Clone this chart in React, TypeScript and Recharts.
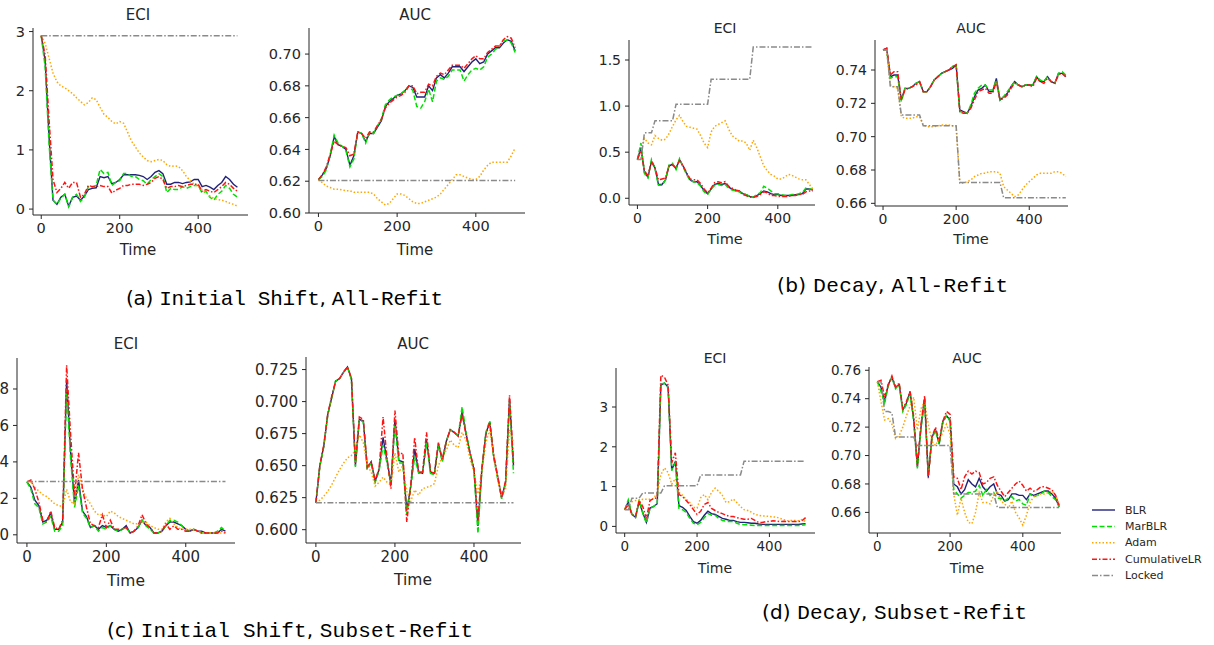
import React from "react";
import { LineChart, Line, XAxis, YAxis } from "recharts";

// time steps shared by every panel
const TIME = [
  0, 10, 20, 30, 40, 50, 60, 70, 80, 90,
  100, 110, 120, 130, 140, 150, 160, 170, 180, 190,
  200, 210, 220, 230, 240, 250, 260, 270, 280, 290,
  300, 310, 320, 330, 340, 350, 360, 370, 380, 390,
  400, 410, 420, 430, 440, 450, 460, 470, 480, 490,
  500,
];

// (a) Initial Shift, All-Refit — ECI
const A_ECI_BLR = [
  2.93, 2.5, 1.2, 0.15, 0.08, 0.2, 0.25, 0.05, 0.2, 0.22,
  0.15, 0.22, 0.33, 0.35, 0.36, 0.55, 0.53, 0.55, 0.43, 0.45,
  0.5, 0.58, 0.58, 0.58, 0.58, 0.57, 0.55, 0.5, 0.55, 0.62,
  0.65, 0.6, 0.42, 0.42, 0.45, 0.45, 0.43, 0.45, 0.46, 0.5,
  0.5, 0.38, 0.4, 0.37, 0.33, 0.4, 0.45, 0.55, 0.5, 0.42,
  0.37,
];
const A_ECI_MARBLR = [
  2.93, 2.4, 1.1, 0.15, 0.08, 0.18, 0.25, 0.04, 0.2, 0.25,
  0.13, 0.2, 0.38, 0.37, 0.4, 0.67, 0.6, 0.62, 0.4, 0.45,
  0.48, 0.6, 0.6, 0.55, 0.55, 0.5, 0.48, 0.42, 0.5, 0.55,
  0.6, 0.55, 0.28, 0.35, 0.33, 0.33, 0.38, 0.35, 0.38, 0.4,
  0.4, 0.27, 0.3, 0.2, 0.15, 0.25, 0.3, 0.4, 0.35, 0.25,
  0.2,
];
const A_ECI_ADAM = [
  2.93, 2.8, 2.55, 2.3, 2.15, 2.08, 2.05, 2.0, 1.95, 1.88,
  1.82, 1.76, 1.8, 1.88, 1.85, 1.72, 1.6, 1.55, 1.48, 1.44,
  1.48, 1.45, 1.3, 1.15, 1.05, 0.95, 0.88, 0.82, 0.8, 0.82,
  0.84, 0.82, 0.75, 0.72, 0.73, 0.72, 0.65, 0.55, 0.48, 0.42,
  0.38, 0.33, 0.28, 0.22, 0.18, 0.16, 0.15, 0.13, 0.1, 0.08,
  0.05,
];
const A_ECI_CUMLR = [
  2.93, 2.6, 1.5, 0.5, 0.28, 0.35, 0.45, 0.35, 0.45, 0.45,
  0.2, 0.25, 0.4, 0.38, 0.38, 0.4, 0.38, 0.38, 0.27, 0.32,
  0.35, 0.4, 0.4, 0.42, 0.42, 0.42, 0.4, 0.42, 0.45, 0.52,
  0.55, 0.5, 0.35, 0.38, 0.38, 0.4, 0.38, 0.4, 0.42, 0.42,
  0.42, 0.3, 0.33, 0.3, 0.28, 0.33, 0.38, 0.45, 0.42, 0.35,
  0.3,
];
const A_ECI_LOCKED = [
  2.93, 2.93, 2.93, 2.93, 2.93, 2.93, 2.93, 2.93, 2.93, 2.93,
  2.93, 2.93, 2.93, 2.93, 2.93, 2.93, 2.93, 2.93, 2.93, 2.93,
  2.93, 2.93, 2.93, 2.93, 2.93, 2.93, 2.93, 2.93, 2.93, 2.93,
  2.93, 2.93, 2.93, 2.93, 2.93, 2.93, 2.93, 2.93, 2.93, 2.93,
  2.93, 2.93, 2.93, 2.93, 2.93, 2.93, 2.93, 2.93, 2.93, 2.93,
  2.93,
];

// (a) Initial Shift, All-Refit — AUC
const A_AUC_BLR = [
  0.621, 0.624, 0.628, 0.636, 0.648, 0.643, 0.642, 0.64, 0.63, 0.636,
  0.651, 0.65, 0.645, 0.65, 0.65, 0.654, 0.658, 0.667, 0.67, 0.672,
  0.674, 0.675, 0.677, 0.68, 0.679, 0.673, 0.673, 0.673, 0.68, 0.677,
  0.685, 0.687, 0.685, 0.688, 0.692, 0.692, 0.692, 0.689, 0.692, 0.695,
  0.697, 0.694, 0.695, 0.7, 0.702, 0.704, 0.704, 0.707, 0.709, 0.708,
  0.702,
];
const A_AUC_MARBLR = [
  0.621, 0.623, 0.627, 0.637, 0.649, 0.644, 0.642, 0.639, 0.629, 0.634,
  0.651, 0.65, 0.644, 0.651, 0.65, 0.655, 0.659, 0.668, 0.671, 0.673,
  0.674, 0.675, 0.677, 0.68, 0.677, 0.667, 0.666, 0.67, 0.678, 0.67,
  0.683, 0.685, 0.684, 0.686, 0.69, 0.69, 0.69, 0.683, 0.687, 0.69,
  0.691, 0.69, 0.692, 0.698, 0.7, 0.703, 0.705, 0.708, 0.709, 0.707,
  0.701,
];
const A_AUC_ADAM = [
  0.621, 0.619, 0.617, 0.616, 0.615, 0.615, 0.6145, 0.614, 0.614, 0.613,
  0.613, 0.613, 0.613, 0.613, 0.612, 0.609, 0.607, 0.605, 0.606, 0.609,
  0.612, 0.612, 0.611, 0.609, 0.607, 0.606, 0.606, 0.607, 0.608, 0.609,
  0.61, 0.612, 0.615, 0.618, 0.621, 0.624, 0.624, 0.623, 0.622, 0.621,
  0.621, 0.623, 0.627, 0.63, 0.632, 0.632, 0.632, 0.632, 0.632, 0.636,
  0.641,
];
const A_AUC_CUMLR = [
  0.621, 0.624, 0.629, 0.637, 0.645, 0.643, 0.642, 0.641, 0.636, 0.637,
  0.651, 0.65, 0.647, 0.651, 0.651, 0.655, 0.659, 0.666, 0.669, 0.671,
  0.673, 0.674, 0.676, 0.68, 0.68, 0.675, 0.676, 0.676, 0.681, 0.68,
  0.686, 0.688, 0.687, 0.69, 0.693, 0.693, 0.693, 0.691, 0.694, 0.697,
  0.699, 0.697, 0.697, 0.701, 0.703, 0.705, 0.705, 0.709, 0.711, 0.71,
  0.704,
];
const A_AUC_LOCKED = [
  0.6205, 0.6205, 0.6205, 0.6205, 0.6205, 0.6205, 0.6205, 0.6205, 0.6205, 0.6205,
  0.6205, 0.6205, 0.6205, 0.6205, 0.6205, 0.6205, 0.6205, 0.6205, 0.6205, 0.6205,
  0.6205, 0.6205, 0.6205, 0.6205, 0.6205, 0.6205, 0.6205, 0.6205, 0.6205, 0.6205,
  0.6205, 0.6205, 0.6205, 0.6205, 0.6205, 0.6205, 0.6205, 0.6205, 0.6205, 0.6205,
  0.6205, 0.6205, 0.6205, 0.6205, 0.6205, 0.6205, 0.6205, 0.6205, 0.6205, 0.6205,
  0.6205,
];

// (b) Decay, All-Refit — ECI
const B_ECI_BLR = [
  0.42, 0.55, 0.28, 0.23, 0.4, 0.33, 0.15, 0.15, 0.2, 0.35,
  0.37, 0.32, 0.42, 0.35, 0.27, 0.2, 0.18, 0.18, 0.14, 0.08,
  0.05, 0.1, 0.15, 0.16, 0.15, 0.16, 0.12, 0.1, 0.08, 0.08,
  0.05, 0.04, 0.02, 0.01, 0.03, 0.05, 0.08, 0.07, 0.05, 0.04,
  0.04, 0.03, 0.03, 0.03, 0.03, 0.04, 0.04, 0.05, 0.1, 0.1,
  0.09,
];
const B_ECI_MARBLR = [
  0.42, 0.6, 0.27, 0.22, 0.42, 0.32, 0.14, 0.14, 0.2, 0.36,
  0.38, 0.31, 0.43, 0.34, 0.26, 0.19, 0.18, 0.17, 0.13, 0.07,
  0.04, 0.1, 0.14, 0.15, 0.14, 0.15, 0.11, 0.09, 0.08, 0.07,
  0.05, 0.04, 0.02, 0.01, 0.04, 0.06, 0.13, 0.11, 0.08, 0.05,
  0.05, 0.04, 0.03, 0.03, 0.04, 0.04, 0.05, 0.06, 0.11, 0.1,
  0.1,
];
const B_ECI_ADAM = [
  0.42, 0.5, 0.65, 0.6, 0.58, 0.68, 0.65, 0.63, 0.64, 0.7,
  0.78, 0.85, 0.9, 0.83, 0.78, 0.77, 0.76, 0.75, 0.68, 0.6,
  0.55, 0.72, 0.78, 0.8, 0.82, 0.84, 0.75, 0.68, 0.65, 0.62,
  0.62, 0.6, 0.52, 0.63, 0.55, 0.45, 0.35, 0.3, 0.26, 0.24,
  0.21, 0.21, 0.23, 0.26, 0.25, 0.23, 0.21, 0.2, 0.2, 0.15,
  0.1,
];
const B_ECI_CUMLR = [
  0.42, 0.52, 0.3, 0.24, 0.4, 0.33, 0.2, 0.21, 0.22, 0.35,
  0.36, 0.33, 0.41, 0.35, 0.28, 0.21, 0.2, 0.2, 0.16, 0.1,
  0.06, 0.11, 0.17, 0.18, 0.17, 0.18, 0.13, 0.11, 0.09, 0.08,
  0.04, 0.03, 0.01, 0.01, 0.02, 0.04, 0.07, 0.06, 0.03, 0.03,
  0.02, 0.02, 0.02, 0.02, 0.03, 0.03, 0.04, 0.04, 0.07, 0.08,
  0.08,
];
// the locked model's ECI under decay (same in (b) and (d))
const DECAY_ECI_LOCKED = [
  0.42, 0.42, 0.71, 0.71, 0.71, 0.84, 0.84, 0.84, 0.84, 0.84,
  0.84, 1.02, 1.02, 1.02, 1.02, 1.02, 1.02, 1.02, 1.02, 1.02,
  1.02, 1.29, 1.29, 1.29, 1.29, 1.29, 1.29, 1.29, 1.29, 1.29,
  1.29, 1.29, 1.29, 1.64, 1.64, 1.64, 1.64, 1.64, 1.64, 1.64,
  1.64, 1.64, 1.64, 1.64, 1.64, 1.64, 1.64, 1.64, 1.64, 1.64,
  1.64,
];

// (b) Decay, All-Refit — AUC
const B_AUC_BLR = [
  0.752, 0.753, 0.736, 0.737, 0.737, 0.722, 0.729, 0.729, 0.73, 0.732,
  0.733, 0.727, 0.727, 0.73, 0.734, 0.736, 0.738, 0.739, 0.74, 0.741,
  0.743, 0.716, 0.715, 0.714, 0.718, 0.724, 0.728, 0.729, 0.731, 0.727,
  0.727, 0.735, 0.722, 0.724, 0.726, 0.73, 0.733, 0.731, 0.73, 0.731,
  0.731, 0.731, 0.736, 0.733, 0.733, 0.736, 0.733, 0.732, 0.738, 0.738,
  0.736,
];
const B_AUC_MARBLR = [
  0.752, 0.752, 0.735, 0.736, 0.736, 0.721, 0.729, 0.729, 0.73, 0.732,
  0.733, 0.727, 0.727, 0.73, 0.734, 0.736, 0.738, 0.739, 0.74, 0.742,
  0.743, 0.715, 0.715, 0.714, 0.719, 0.726, 0.729, 0.731, 0.731, 0.728,
  0.728, 0.734, 0.722, 0.724, 0.727, 0.73, 0.733, 0.731, 0.73, 0.731,
  0.731, 0.731, 0.736, 0.734, 0.733, 0.736, 0.733, 0.732, 0.738, 0.739,
  0.737,
];
const B_AUC_ADAM = [
  0.752, 0.752, 0.731, 0.73, 0.729, 0.712, 0.711, 0.711, 0.711, 0.712,
  0.712, 0.707, 0.706, 0.706, 0.706, 0.7065, 0.707, 0.707, 0.707, 0.7065,
  0.706, 0.672, 0.672, 0.673, 0.674, 0.676, 0.677, 0.678, 0.678, 0.679,
  0.679, 0.679, 0.678, 0.67, 0.668, 0.666, 0.664, 0.665, 0.668, 0.671,
  0.673, 0.675, 0.677, 0.678, 0.678, 0.678, 0.678, 0.679, 0.679, 0.678,
  0.676,
];
const B_AUC_CUMLR = [
  0.752, 0.753, 0.737, 0.739, 0.739, 0.722, 0.728, 0.729, 0.73, 0.731,
  0.733, 0.727, 0.727, 0.73, 0.734, 0.736, 0.738, 0.739, 0.74, 0.742,
  0.743, 0.715, 0.714, 0.714, 0.717, 0.722, 0.727, 0.728, 0.729, 0.726,
  0.726, 0.733, 0.722, 0.723, 0.725, 0.729, 0.732, 0.731, 0.73, 0.731,
  0.731, 0.73, 0.735, 0.733, 0.732, 0.735, 0.733, 0.732, 0.737, 0.738,
  0.736,
];
const B_AUC_LOCKED = [
  0.752, 0.752, 0.73, 0.73, 0.73, 0.713, 0.713, 0.713, 0.713, 0.713,
  0.713, 0.7065, 0.7065, 0.7065, 0.7065, 0.7065, 0.7065, 0.7065, 0.7065, 0.7065,
  0.7065, 0.6725, 0.6725, 0.6725, 0.6725, 0.6725, 0.6725, 0.6725, 0.6725, 0.6725,
  0.6725, 0.6725, 0.6725, 0.6633, 0.6633, 0.6633, 0.6633, 0.6633, 0.6633, 0.6633,
  0.6633, 0.6633, 0.6633, 0.6633, 0.6633, 0.6633, 0.6633, 0.6633, 0.6633, 0.6633,
  0.6633,
];

// (c) Initial Shift, Subset-Refit — ECI
const C_ECI_BLR = [
  0.29, 0.26, 0.19, 0.16, 0.07, 0.08, 0.12, 0.03, 0.03, 0.07,
  0.85, 0.45, 0.17, 0.3, 0.13, 0.1, 0.04, 0.05, 0.03, 0.05,
  0.04, 0.05, 0.03, 0.02, 0.03, 0.05, 0.01, 0.02, 0.04, 0.08,
  0.05, 0.04, 0.01, 0.01, 0.02, 0.05, 0.07, 0.07, 0.06, 0.05,
  0.03, 0.02, 0.03, 0.02, 0.02, 0.01, 0.01, 0.01, 0.01, 0.03,
  0.02,
];
const C_ECI_MARBLR = [
  0.29, 0.25, 0.17, 0.15, 0.06, 0.07, 0.1, 0.02, 0.02, 0.05,
  0.8, 0.42, 0.15, 0.27, 0.12, 0.09, 0.04, 0.05, 0.02, 0.04,
  0.03, 0.05, 0.03, 0.02, 0.03, 0.04, 0.01, 0.02, 0.04, 0.08,
  0.05, 0.03, 0.01, 0.01, 0.02, 0.05, 0.08, 0.08, 0.07, 0.05,
  0.03, 0.02, 0.03, 0.02, 0.01, 0.01, 0.01, 0.01, 0.02, 0.04,
  0.02,
];
const C_ECI_ADAM = [
  0.29, 0.29, 0.26, 0.24, 0.22, 0.21, 0.19, 0.17, 0.16, 0.155,
  0.25, 0.18, 0.17, 0.33, 0.25, 0.2, 0.17, 0.13, 0.11, 0.11,
  0.1, 0.13, 0.12, 0.1, 0.09, 0.08, 0.07, 0.06, 0.06, 0.07,
  0.07, 0.05, 0.04, 0.03, 0.03, 0.07, 0.09, 0.06, 0.04, 0.03,
  0.03, 0.03, 0.03, 0.02, 0.01, 0.01, 0.01, 0.01, 0.01, 0.01,
  0.01,
];
const C_ECI_CUMLR = [
  0.29, 0.3, 0.25, 0.18, 0.08, 0.07, 0.13, 0.04, 0.03, 0.08,
  0.93, 0.55, 0.22, 0.45, 0.25, 0.15, 0.06, 0.05, 0.04, 0.11,
  0.04, 0.08, 0.03, 0.03, 0.03, 0.04, 0.01, 0.02, 0.05, 0.11,
  0.06, 0.04, 0.01, 0.01, 0.02, 0.06, 0.03, 0.05, 0.03, 0.03,
  0.02, 0.02, 0.03, 0.02, 0.01, 0.01, 0.01, 0.01, 0.01, 0.02,
  0.01,
];
const C_ECI_LOCKED = [
  0.293, 0.293, 0.293, 0.293, 0.293, 0.293, 0.293, 0.293, 0.293, 0.293,
  0.293, 0.293, 0.293, 0.293, 0.293, 0.293, 0.293, 0.293, 0.293, 0.293,
  0.293, 0.293, 0.293, 0.293, 0.293, 0.293, 0.293, 0.293, 0.293, 0.293,
  0.293, 0.293, 0.293, 0.293, 0.293, 0.293, 0.293, 0.293, 0.293, 0.293,
  0.293, 0.293, 0.293, 0.293, 0.293, 0.293, 0.293, 0.293, 0.293, 0.293,
  0.293,
];

// (c) Initial Shift, Subset-Refit — AUC
const C_AUC_BLR = [
  0.621, 0.65, 0.665, 0.69, 0.703, 0.716, 0.718, 0.723, 0.727, 0.718,
  0.65, 0.686, 0.685, 0.648, 0.653, 0.638, 0.647, 0.672, 0.654, 0.636,
  0.686, 0.654, 0.653, 0.615, 0.634, 0.663, 0.645, 0.644, 0.67, 0.645,
  0.644, 0.667, 0.654, 0.669, 0.678, 0.676, 0.673, 0.692, 0.675, 0.66,
  0.647, 0.603, 0.647, 0.675, 0.684, 0.657, 0.641, 0.625, 0.637, 0.702,
  0.65,
];
const C_AUC_MARBLR = [
  0.621, 0.649, 0.665, 0.689, 0.703, 0.716, 0.718, 0.723, 0.727, 0.717,
  0.649, 0.686, 0.684, 0.647, 0.652, 0.637, 0.646, 0.666, 0.652, 0.635,
  0.682, 0.652, 0.652, 0.612, 0.633, 0.657, 0.644, 0.644, 0.668, 0.644,
  0.643, 0.666, 0.653, 0.669, 0.678, 0.676, 0.673, 0.696, 0.676, 0.66,
  0.646, 0.597, 0.646, 0.676, 0.685, 0.656, 0.64, 0.624, 0.636, 0.7,
  0.644,
];
const C_AUC_ADAM = [
  0.621, 0.623, 0.626, 0.63, 0.635, 0.641, 0.647, 0.652, 0.656, 0.658,
  0.662, 0.674, 0.668, 0.65, 0.645, 0.634, 0.637, 0.641, 0.637, 0.635,
  0.66, 0.645, 0.65, 0.63, 0.622, 0.631, 0.627, 0.632, 0.633, 0.634,
  0.636, 0.65, 0.657, 0.662, 0.67, 0.666, 0.664, 0.676, 0.67, 0.655,
  0.645, 0.628, 0.645, 0.668, 0.678, 0.658, 0.639, 0.626, 0.632, 0.678,
  0.668,
];
const C_AUC_CUMLR = [
  0.621, 0.65, 0.666, 0.69, 0.704, 0.716, 0.718, 0.723, 0.727, 0.718,
  0.652, 0.688, 0.686, 0.649, 0.653, 0.638, 0.648, 0.688, 0.656, 0.632,
  0.693, 0.658, 0.66, 0.606, 0.634, 0.672, 0.645, 0.645, 0.676, 0.645,
  0.644, 0.668, 0.655, 0.669, 0.678, 0.676, 0.673, 0.69, 0.674, 0.66,
  0.648, 0.607, 0.648, 0.674, 0.684, 0.658, 0.642, 0.625, 0.638, 0.705,
  0.652,
];
const C_AUC_LOCKED = [
  0.621, 0.621, 0.621, 0.621, 0.621, 0.621, 0.621, 0.621, 0.621, 0.621,
  0.621, 0.621, 0.621, 0.621, 0.621, 0.621, 0.621, 0.621, 0.621, 0.621,
  0.621, 0.621, 0.621, 0.621, 0.621, 0.621, 0.621, 0.621, 0.621, 0.621,
  0.621, 0.621, 0.621, 0.621, 0.621, 0.621, 0.621, 0.621, 0.621, 0.621,
  0.621, 0.621, 0.621, 0.621, 0.621, 0.621, 0.621, 0.621, 0.621, 0.621,
  0.621,
];

// (d) Decay, Subset-Refit — ECI
const D_ECI_BLR = [
  0.42, 0.62, 0.3, 0.23, 0.62, 0.34, 0.1, 0.46, 0.5, 0.57,
  3.55, 3.6, 3.5, 1.42, 1.63, 0.52, 0.48, 0.4, 0.25, 0.12,
  0.08, 0.15, 0.28, 0.38, 0.32, 0.3, 0.25, 0.2, 0.18, 0.15,
  0.15, 0.12, 0.1, 0.1, 0.09, 0.08, 0.08, 0.06, 0.05, 0.05,
  0.05, 0.05, 0.05, 0.05, 0.05, 0.05, 0.05, 0.05, 0.05, 0.06,
  0.07,
];
const D_ECI_MARBLR = [
  0.42, 0.67, 0.3, 0.22, 0.67, 0.33, 0.08, 0.45, 0.5, 0.56,
  3.58, 3.6, 3.48, 1.4, 1.6, 0.45, 0.42, 0.35, 0.2, 0.08,
  0.04, 0.1, 0.22, 0.32, 0.28, 0.28, 0.2, 0.15, 0.13, 0.12,
  0.12, 0.08, 0.05, 0.04, 0.04, 0.03, 0.02, 0.02, 0.02, 0.02,
  0.02, 0.02, 0.02, 0.02, 0.02, 0.02, 0.02, 0.02, 0.02, 0.03,
  0.04,
];
const D_ECI_ADAM = [
  0.42, 0.55, 0.62, 0.65, 0.65, 0.68, 0.68, 0.68, 0.7, 0.85,
  1.3, 1.47, 1.35, 1.06, 1.2, 0.85, 0.78, 0.68, 0.6, 0.48,
  0.46, 0.72, 0.8, 0.67, 0.85, 0.96, 0.88, 0.78, 0.6, 0.62,
  0.69, 0.6, 0.5, 0.42, 0.4, 0.36, 0.3, 0.28, 0.26, 0.26,
  0.25, 0.24, 0.23, 0.2, 0.17, 0.14, 0.15, 0.15, 0.14, 0.17,
  0.12,
];
const D_ECI_CUMLR = [
  0.42, 0.55, 0.3, 0.25, 0.65, 0.5, 0.2, 0.65, 0.7, 0.72,
  3.8, 3.75, 3.55, 1.6, 1.85, 0.8, 0.75, 0.65, 0.55, 0.42,
  0.3, 0.38, 0.55, 0.6, 0.45, 0.4, 0.35, 0.32, 0.28, 0.25,
  0.25, 0.22, 0.2, 0.18, 0.18, 0.2, 0.15, 0.1, 0.1, 0.12,
  0.12, 0.14, 0.13, 0.12, 0.13, 0.12, 0.12, 0.12, 0.12, 0.14,
  0.22,
];

// (d) Decay, Subset-Refit — AUC
const D_AUC_BLR = [
  0.752, 0.748, 0.738, 0.75, 0.755, 0.748, 0.75, 0.732, 0.737, 0.745,
  0.725, 0.692, 0.72, 0.74, 0.685, 0.713, 0.718, 0.708, 0.724, 0.728,
  0.725, 0.68, 0.678, 0.673, 0.676, 0.683, 0.68, 0.678, 0.684, 0.678,
  0.675, 0.678, 0.68, 0.673, 0.672, 0.668, 0.669, 0.673, 0.673, 0.672,
  0.672, 0.669, 0.673, 0.672, 0.673, 0.674, 0.675, 0.675, 0.673, 0.67,
  0.664,
];
const D_AUC_MARBLR = [
  0.752, 0.745, 0.737, 0.749, 0.755, 0.747, 0.75, 0.731, 0.736, 0.744,
  0.724, 0.691, 0.719, 0.739, 0.686, 0.712, 0.718, 0.708, 0.723, 0.728,
  0.724, 0.676, 0.673, 0.67, 0.672, 0.674, 0.674, 0.675, 0.679, 0.672,
  0.676, 0.672, 0.674, 0.67, 0.67, 0.668, 0.67, 0.671, 0.668, 0.669,
  0.666, 0.665, 0.673, 0.671, 0.672, 0.673, 0.675, 0.674, 0.671, 0.669,
  0.664,
];
const D_AUC_ADAM = [
  0.752, 0.738, 0.725, 0.726, 0.722, 0.712, 0.714, 0.72, 0.728, 0.735,
  0.741, 0.718, 0.733, 0.738, 0.722, 0.71, 0.707, 0.712, 0.716, 0.722,
  0.715, 0.673, 0.658, 0.67, 0.66, 0.653, 0.652, 0.66, 0.674, 0.667,
  0.667, 0.666, 0.672, 0.675, 0.668, 0.666, 0.663, 0.668, 0.66, 0.656,
  0.651, 0.658, 0.667, 0.671, 0.672, 0.673, 0.673, 0.674, 0.675, 0.672,
  0.666,
];
const D_AUC_CUMLR = [
  0.752, 0.753, 0.741, 0.75, 0.756, 0.748, 0.751, 0.733, 0.738, 0.745,
  0.727, 0.693, 0.722, 0.742, 0.684, 0.713, 0.72, 0.71, 0.724, 0.731,
  0.729, 0.685, 0.684, 0.676, 0.685, 0.689, 0.687, 0.689, 0.688, 0.68,
  0.681, 0.684, 0.685, 0.679, 0.675, 0.671, 0.674, 0.677, 0.68, 0.682,
  0.679, 0.675, 0.677, 0.675, 0.676, 0.678, 0.678, 0.677, 0.676, 0.672,
  0.665,
];
const D_AUC_LOCKED = [
  0.752, 0.752, 0.731, 0.731, 0.73, 0.713, 0.713, 0.713, 0.713, 0.713,
  0.713, 0.707, 0.707, 0.707, 0.707, 0.707, 0.707, 0.707, 0.707, 0.707,
  0.707, 0.673, 0.673, 0.673, 0.673, 0.673, 0.673, 0.673, 0.673, 0.673,
  0.673, 0.673, 0.673, 0.6635, 0.6635, 0.6635, 0.6635, 0.6635, 0.6635, 0.6635,
  0.6635, 0.6635, 0.6635, 0.6635, 0.6635, 0.6635, 0.6635, 0.6635, 0.6635, 0.6635,
  0.6635,
];

const X_TICKS = [0, 200, 400];
const ECI_TICKS_A = [0, 1, 2, 3];
const AUC_TICKS_A = [0.6, 0.62, 0.64, 0.66, 0.68, 0.7];
const ECI_TICKS_B = [0, 0.5, 1.0, 1.5];
const AUC_TICKS_B = [0.66, 0.68, 0.7, 0.72, 0.74];
const ECI_TICKS_C = [0, 0.2, 0.4, 0.6, 0.8];
const AUC_TICKS_C = [0.6, 0.625, 0.65, 0.675, 0.7, 0.725];
const ECI_TICKS_D = [0, 1, 2, 3];
const AUC_TICKS_D = [0.66, 0.68, 0.7, 0.72, 0.74, 0.76];

const SERIES = [
  { key: "BLR", color: "#22227a", width: 1.4, dash: undefined as string | undefined },
  { key: "MarBLR", color: "#00e000", width: 1.5, dash: "5 2.5" },
  { key: "Adam", color: "#ffa500", width: 1.5, dash: "1.5 2" },
  { key: "CumulativeLR", color: "#ff1414", width: 1.5, dash: "5 2 1.5 2" },
  { key: "Locked", color: "#8a8a8a", width: 1.5, dash: "6 2 1.5 2" },
];

const INK = "#262626";
const SANS = "'DejaVu Sans', sans-serif";
const MONO = "'Liberation Mono', 'Courier New', monospace";

interface PanelSpec {
  title: string;
  left: number; right: number; top: number; bottom: number;
  xDomain: [number, number];
  yDomain: [number, number];
  yTicks: number[];
  digits: number;
  tickFont: number; titleFont: number; timeFont: number;
  titleX: number; titleY: number; timeY: number;
  values: number[][];
}

const PANELS: PanelSpec[] = [
  { title: "ECI", left: 33, right: 248, top: 28, bottom: 215, xDomain: [-21, 527], yDomain: [-0.1, 3.06],
    yTicks: ECI_TICKS_A, digits: 0, tickFont: 14.5, titleFont: 15, timeFont: 15, titleX: 138, titleY: 15, timeY: 250,
    values: [A_ECI_BLR, A_ECI_MARBLR, A_ECI_ADAM, A_ECI_CUMLR, A_ECI_LOCKED] },
  { title: "AUC", left: 309, right: 525, top: 28, bottom: 213, xDomain: [-24, 525], yDomain: [0.6, 0.7164],
    yTicks: AUC_TICKS_A, digits: 2, tickFont: 14.5, titleFont: 15, timeFont: 15, titleX: 415, titleY: 15, timeY: 250,
    values: [A_AUC_BLR, A_AUC_MARBLR, A_AUC_ADAM, A_AUC_CUMLR, A_AUC_LOCKED] },
  { title: "ECI", left: 629, right: 815, top: 40, bottom: 205, xDomain: [-24, 506], yDomain: [-0.073, 1.717],
    yTicks: ECI_TICKS_B, digits: 1, tickFont: 14, titleFont: 14, timeFont: 14.5, titleX: 725, titleY: 28, timeY: 239,
    values: [B_ECI_BLR, B_ECI_MARBLR, B_ECI_ADAM, B_ECI_CUMLR, DECAY_ECI_LOCKED] },
  { title: "AUC", left: 875, right: 1068, top: 40, bottom: 206, xDomain: [-22, 506], yDomain: [0.6584, 0.758],
    yTicks: AUC_TICKS_B, digits: 2, tickFont: 14, titleFont: 14, timeFont: 14.5, titleX: 971, titleY: 28, timeY: 239,
    values: [B_AUC_BLR, B_AUC_MARBLR, B_AUC_ADAM, B_AUC_CUMLR, B_AUC_LOCKED] },
  { title: "ECI", left: 17, right: 235, top: 358, bottom: 543, xDomain: [-25, 524], yDomain: [-0.045, 0.97],
    yTicks: ECI_TICKS_C, digits: 1, tickFont: 15, titleFont: 15, timeFont: 15.5, titleX: 126, titleY: 344, timeY: 581,
    values: [C_ECI_BLR, C_ECI_MARBLR, C_ECI_ADAM, C_ECI_CUMLR, C_ECI_LOCKED] },
  { title: "AUC", left: 306, right: 521, top: 357, bottom: 543, xDomain: [-25, 519], yDomain: [0.5896, 0.7348],
    yTicks: AUC_TICKS_C, digits: 3, tickFont: 15, titleFont: 15, timeFont: 15.5, titleX: 413, titleY: 344, timeY: 580,
    values: [C_AUC_BLR, C_AUC_MARBLR, C_AUC_ADAM, C_AUC_CUMLR, C_AUC_LOCKED] },
  { title: "ECI", left: 616, right: 815, top: 368, bottom: 533, xDomain: [-24, 526], yDomain: [-0.166, 3.98],
    yTicks: ECI_TICKS_D, digits: 0, tickFont: 13.5, titleFont: 14, timeFont: 14, titleX: 715, titleY: 358, timeY: 568,
    values: [D_ECI_BLR, D_ECI_MARBLR, D_ECI_ADAM, D_ECI_CUMLR, DECAY_ECI_LOCKED] },
  { title: "AUC", left: 869, right: 1061, top: 367, bottom: 533, xDomain: [-23, 505], yDomain: [0.6455, 0.7623],
    yTicks: AUC_TICKS_D, digits: 2, tickFont: 13.5, titleFont: 14, timeFont: 14, titleX: 967, titleY: 358, timeY: 568,
    values: [D_AUC_BLR, D_AUC_MARBLR, D_AUC_ADAM, D_AUC_CUMLR, D_AUC_LOCKED] },
];

const CAPTIONS = [
  { label: "(a)", first: "Initial Shift", second: "All-Refit", x: 126, y: 305, width: 317 },
  { label: "(b)", first: "Decay", second: "All-Refit", x: 777, y: 292, width: 231 },
  { label: "(c)", first: "Initial Shift", second: "Subset-Refit", x: 107, y: 637, width: 366 },
  { label: "(d)", first: "Decay", second: "Subset-Refit", x: 762, y: 619, width: 265 },
];

const Y_W = 60;
const X_H = 30;
const M_TOP = 4;
const M_RIGHT = 4;

function Panel({ p }: { p: PanelSpec }) {
  const rows = TIME.map((t, i) => {
    const row: Record<string, number> = { t };
    SERIES.forEach((s, k) => { row[s.key] = p.values[k][i]; });
    return row;
  });
  const plotW = p.right - p.left;
  const plotH = p.bottom - p.top;
  const tickStyle = { fontSize: p.tickFont, fill: INK, fontFamily: SANS };

  return (
    <div style={{ position: "absolute", left: p.left - Y_W, top: p.top - M_TOP }}>
      <LineChart
        width={Y_W + plotW + M_RIGHT}
        height={M_TOP + plotH + X_H}
        data={rows}
        margin={{ top: M_TOP, right: M_RIGHT, bottom: 0, left: 0 }}
      >
        <XAxis dataKey="t" type="number" domain={p.xDomain} ticks={X_TICKS} interval={0}
          allowDataOverflow height={X_H} tickSize={4} tickMargin={4} stroke={INK} tick={tickStyle} />
        <YAxis type="number" domain={p.yDomain} ticks={p.yTicks} interval={0}
          allowDataOverflow width={Y_W} tickSize={4} tickMargin={4} stroke={INK} tick={tickStyle}
          tickFormatter={(v: number) => v.toFixed(p.digits)} />
        {SERIES.map((s) => (
          <Line key={s.key} type="linear" dataKey={s.key} stroke={s.color} strokeWidth={s.width}
            strokeDasharray={s.dash} dot={false} activeDot={false} isAnimationActive={false} />
        ))}
      </LineChart>
    </div>
  );
}

export default function App() {
  return (
    <div style={{ position: "absolute", left: 0, top: 0, width: 1214, height: 645, overflow: "hidden", background: "#fff" }}>
      <style>{"body{margin:0}"}</style>
      {PANELS.map((p, i) => <Panel key={i} p={p} />)}
      <svg width={1214} height={645} style={{ position: "absolute", left: 0, top: 0, pointerEvents: "none" }}>
        {PANELS.map((p, i) => (
          <g key={i} fill={INK} fontFamily={SANS} textAnchor="middle">
            <text x={p.titleX} y={p.titleY} fontSize={p.titleFont} dominantBaseline="central">{p.title}</text>
            <text x={p.titleX} y={p.timeY} fontSize={p.timeFont} dominantBaseline="central">Time</text>
          </g>
        ))}
        {CAPTIONS.map((c, i) => (
          <text key={i} x={c.x} y={c.y} textLength={c.width} lengthAdjust="spacing" fill="#000">
            <tspan style={{ fontFamily: SANS, fontSize: 20 }}>{c.label} </tspan>
            <tspan style={{ fontFamily: MONO, fontSize: 21 }}>{c.first}</tspan>
            <tspan style={{ fontFamily: SANS, fontSize: 20 }}>, </tspan>
            <tspan style={{ fontFamily: MONO, fontSize: 21 }}>{c.second}</tspan>
          </text>
        ))}
        {SERIES.map((s, i) => {
          const y = 510 + i * 16.4;
          return (
            <g key={s.key}>
              <line x1={1092} x2={1115} y1={y} y2={y} stroke={s.color} strokeWidth={s.width} strokeDasharray={s.dash} />
              <text x={1125} y={y} fontSize={11} fontFamily={SANS} fill={INK} dominantBaseline="central">{s.key}</text>
            </g>
          );
        })}
      </svg>
    </div>
  );
}
